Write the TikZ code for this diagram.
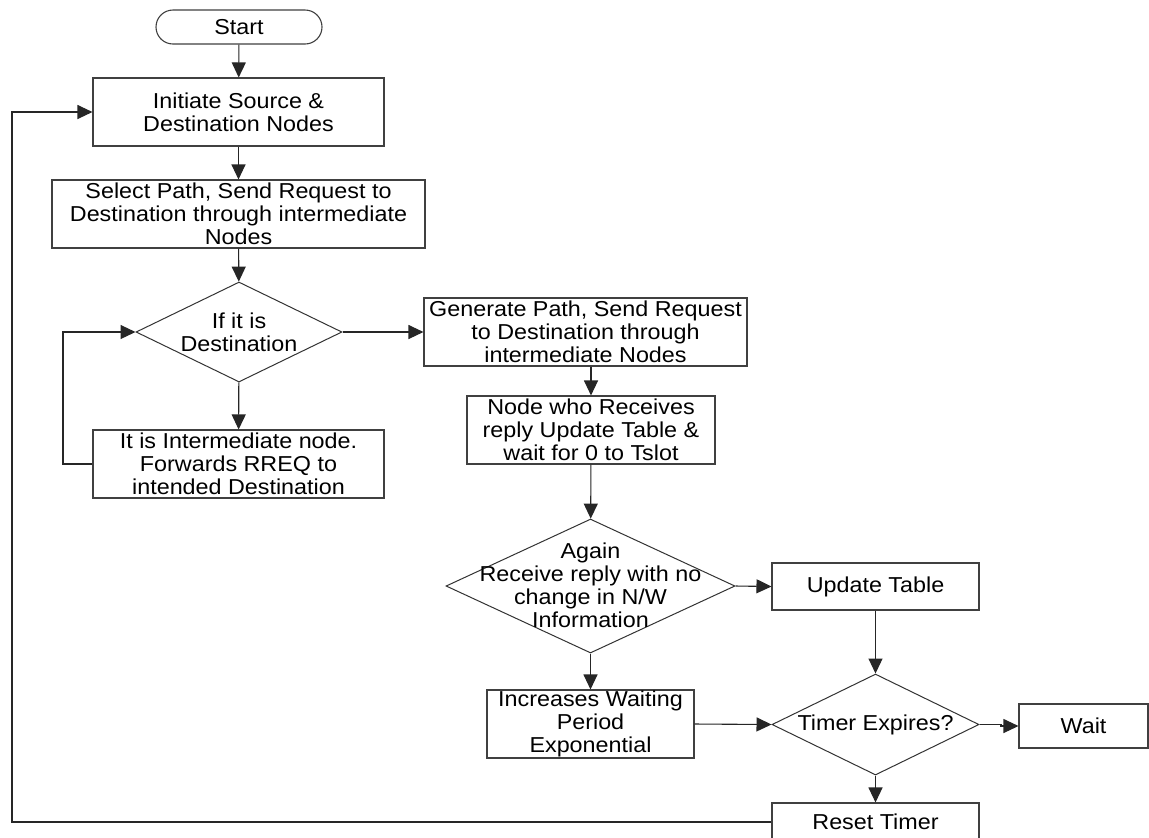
\documentclass[tikz,border=0pt]{standalone}
\usepackage{fontspec}
\setmainfont{Liberation Sans}[FakeStretch=1.08]
\usetikzlibrary{shapes.geometric,shapes.misc,arrows.meta}
\begin{document}
\begin{tikzpicture}[x=0.5pt,y=-0.5pt,
  every node/.style={font=\fontsize{10.8}{11.5}\selectfont},
  box/.style={draw=black!75, line width=0.55pt, align=center, inner sep=0pt},
  dia/.style={diamond, draw=black!80, line width=0.5pt, inner sep=0pt},
  term/.style={rounded rectangle, draw=black!75, line width=0.55pt, inner sep=0pt},
  lbl/.style={align=center, inner sep=0pt},
  arr/.style={line width=0.55pt, draw=black!85, -{Triangle[length=7.5pt,width=7pt]}}]
\useasboundingbox[fill=white] (0,0) rectangle (1149,837);

\node[term, minimum width=83pt, minimum height=17pt] (start) at (239,27) {Start};
\node[box, minimum width=145.5pt, minimum height=34pt] (init) at (238.5,112) {Initiate Source \&\\Destination Nodes};
\node[box, minimum width=186.5pt, minimum height=34pt] (select) at (238.5,214) {Select Path, Send Request to\\Destination through intermediate\\Nodes};
\node[dia, minimum width=103pt, minimum height=50pt] (dec1) at (239,332) {};
\node[lbl] (dec1t) at (dec1) {If it is\\Destination};
\node[box, minimum width=145.5pt, minimum height=34pt] (inter) at (238.5,464) {It is Intermediate node.\\Forwards RREQ to\\intended Destination};
\node[box, minimum width=161.5pt, minimum height=34pt] (gen) at (585.5,332) {Generate Path, Send Request\\to Destination through\\intermediate Nodes};
\node[box, minimum width=124pt, minimum height=34pt] (who) at (591,430) {Node who Receives\\reply Update Table \&\\wait for 0 to Tslot};
\node[dia, minimum width=144.5pt, minimum height=67pt] (dec2) at (590.5,586) {};
\node[lbl] (dec2t) at (590.5,585) {Again\\Receive reply with no\\change in N/W\\Information};
\node[box, minimum width=103.5pt, minimum height=23.5pt] (upd) at (875.5,586.5) {Update Table};
\node[box, minimum width=103.5pt, minimum height=34pt] (inc) at (590.5,724) {Increases Waiting\\Period\\Exponential};
\node[dia, minimum width=103.5pt, minimum height=50.5pt] (timer) at (875.5,724.5) {};
\node[lbl] (timert) at (timer) {Timer Expires?};
\node[box, minimum width=64.5pt, minimum height=22pt] (wait) at (1083.5,726) {Wait};
\node[box, minimum width=103.5pt, minimum height=19pt] (reset) at (875.5,822) {Reset Timer};

\coordinate (fb) at (12,500);
\coordinate (lp) at (63,400);
\coordinate (jog) at (1001,724.5);

\draw[arr] (start) -- (init);
\draw[arr] (init) -- (select);
\draw[arr] (select) -- (dec1);
\draw[arr] (dec1) -- (inter);
\draw[arr] (inter.west) -| (lp) |- (dec1.west);
\draw[arr] (dec1.east) -- (dec1.east -| gen.west);
\draw[arr] (gen.south -| who.north) -- (who.north);
\draw[arr] (who) -- (dec2);
\draw[arr] (dec2.east) -- (upd.west);
\draw[arr] (dec2) -- (inc);
\draw[arr] (upd) -- (timer);
\draw[arr] (inc.east) -- (timer.west);
\draw[arr] (timer.east) -- (jog) |- (wait.west);
\draw[arr] (timer) -- (reset);
\draw[arr] (reset.west) -| (fb) |- (init.west);
\end{tikzpicture}
\end{document}
